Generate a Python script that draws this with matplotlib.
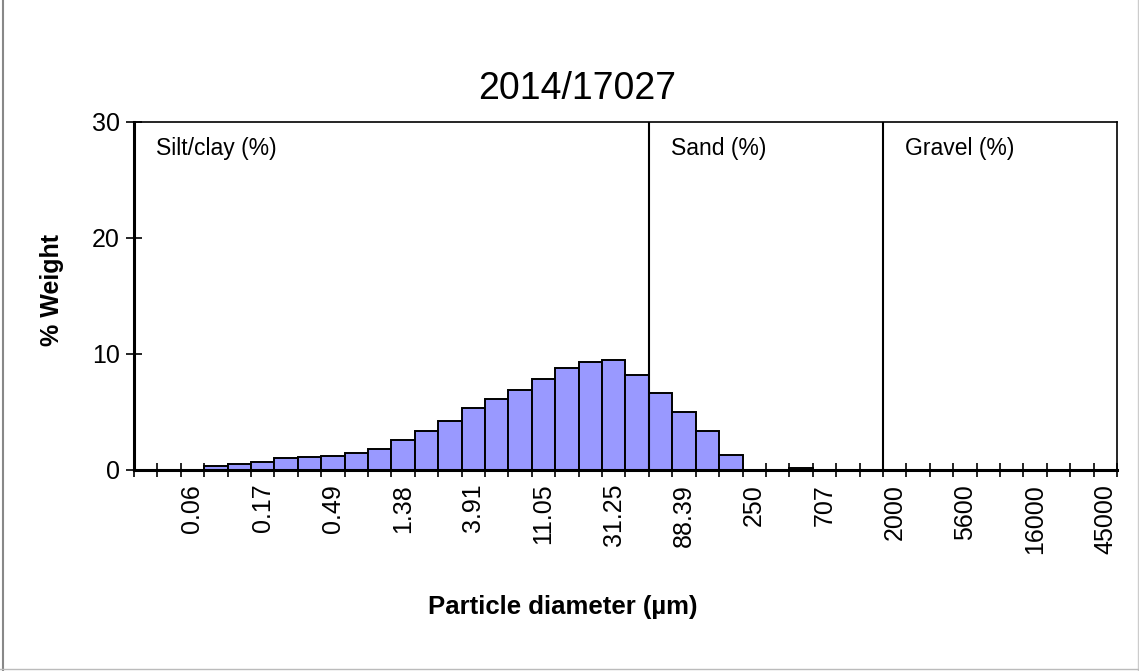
import matplotlib
matplotlib.use("Agg")
import matplotlib.pyplot as plt
from matplotlib.lines import Line2D

plt.rcParams['font.family'] = ['Liberation Sans', 'DejaVu Sans']

# size classes (um), sqrt(2) steps, one per bar
sizes = ["0.03", "0.042", "0.06", "0.085", "0.12", "0.17", "0.24", "0.35", "0.49", "0.69",
         "0.98", "1.38", "1.95", "2.76", "3.91", "5.52", "7.81", "11.05", "15.63", "22.1",
         "31.25", "44.19", "62.5", "88.39", "125", "177", "250", "354", "500", "707",
         "1000", "1414", "2000", "2828", "4000", "5600", "8000", "11300", "16000", "22600",
         "32000", "45000"]
weight = [0, 0, 0, 0.3, 0.5, 0.7, 1.05, 1.15, 1.2, 1.45,
          1.85, 2.55, 3.4, 4.25, 5.3, 6.15, 6.9, 7.85, 8.8, 9.35,
          9.45, 8.2, 6.6, 5.0, 3.4, 1.3, 0, 0, 0.2, 0,
          0, 0, 0, 0, 0, 0, 0, 0, 0, 0,
          0, 0]
shown_labels = ["0.06", "0.17", "0.49", "1.38", "3.91", "11.05", "31.25", "88.39",
                "250", "707", "2000", "5600", "16000", "45000"]
fractions = ["Silt/clay (%)", "Sand (%)", "Gravel (%)"]
fraction_start = [0, 22, 32]  # first bar index of each fraction

fig = plt.figure(figsize=(11.39, 6.71), dpi=100)
ax = fig.add_axes([0.1176, 0.2996, 0.8631, 0.5186])

x = list(range(len(sizes)))
ax.bar(x, weight, width=1.0, color="#9999ff", edgecolor="black", linewidth=1.4, zorder=2)

ax.set_xlim(-0.5, len(sizes) - 0.5)
ax.set_ylim(0, 30)
ax.set_yticks([0, 10, 20, 30])

# ticks on the class boundaries, labels in the middle of every third class
ax.set_xticks([i - 0.5 for i in range(len(sizes) + 1)])
ax.set_xticklabels([])
pos = [sizes.index(s) for s in shown_labels]
ax.set_xticks(pos, minor=True)
ax.set_xticklabels(shown_labels, minor=True, rotation=90, fontsize=18)
ax.tick_params(axis="x", which="minor", length=0, pad=10)
ax.tick_params(axis="x", which="major", direction="inout", length=10, width=1.2)
ax.tick_params(axis="y", direction="inout", length=12, width=1.2, labelsize=18, pad=4)

for s in ["left", "bottom"]:
    ax.spines[s].set_linewidth(2.2)
for s in ["top", "right"]:
    ax.spines[s].set_linewidth(1.2)

for name, start in zip(fractions, fraction_start):
    if start > 0:
        ax.axvline(start - 0.5, color="black", linewidth=1.5, zorder=3)
    ax.text(start + 0.45, 0.925, name, transform=ax.get_xaxis_transform(),
            fontsize=16.5, va="center", ha="left")

fig.text(0.507, 0.868, "2014/17027", fontsize=27, ha="center", va="center")
fig.text(0.046, 0.568, "% Weight", fontsize=18, fontweight="bold", rotation=90,
         ha="center", va="center")
fig.text(0.494, 0.095, "Particle diameter (\u00b5m)", fontsize=18.5, fontweight="bold",
         ha="center", va="center")

# outer frame of the original picture
fig.add_artist(Line2D([0.003, 0.003], [0, 1], color="#888888", linewidth=1.5))
fig.add_artist(Line2D([0.999, 0.999], [0, 1], color="#cccccc", linewidth=1.0))
fig.add_artist(Line2D([0, 1], [0.003, 0.003], color="#bbbbbb", linewidth=1.0))

fig.savefig("out.png", dpi=100)
